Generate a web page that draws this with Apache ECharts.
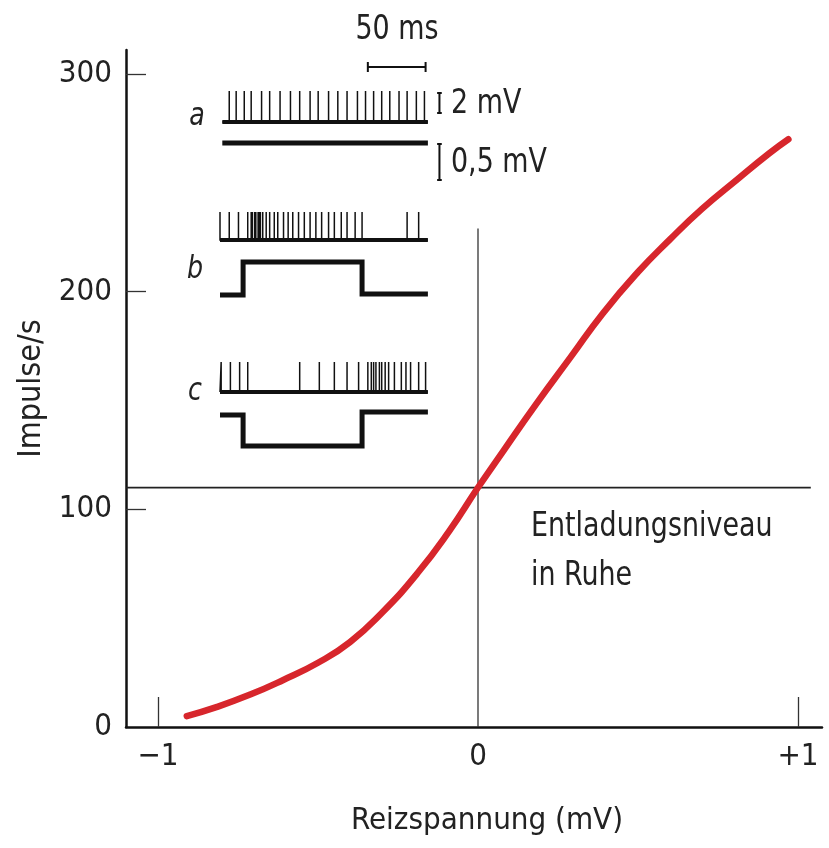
<!DOCTYPE html>
<html>
<head>
<meta charset="utf-8">
<script src="https://cdn.jsdelivr.net/npm/echarts@6/dist/echarts.min.js"></script>
<style>
  html, body { margin: 0; padding: 0; background: #fff; }
  #chart { width: 829px; height: 848px; }
</style>
</head>
<body>
<div id="chart"></div>
<script>
// Kennlinie: Reizspannung (mV) -> Entladungsrate (Impulse/s)
const stimulusMv = [-0.91, -0.82, -0.71, -0.61, -0.50, -0.40, -0.30, -0.19, -0.09, 0, 0.08, 0.18, 0.29, 0.39, 0.50, 0.60, 0.70, 0.81, 0.91, 0.97];
const impulseRate = [5, 9, 15, 21.5, 29.5, 39, 52.5, 70.5, 90, 110, 127, 148, 170, 190, 209, 224, 238, 251.5, 263.5, 270];
const restRate = 110;          // Entladungsniveau in Ruhe
const yTicks = [0, 100, 200, 300];
const xTicks = [-1, 0, 1];
const xTickLabels = ['−1', '0', '+1'];

// Ableitungen a, b, c (Zeit in ms)
const spikesA = [8, 14, 21, 27, 36, 43, 52, 61, 69, 78, 85, 94, 102, 110, 119, 126, 133, 140, 147, 155, 162, 170, 177];
const spikesB = [0, 8, 16, 24, 27, 28, 30, 31, 33, 34, 35, 37, 40, 43, 47, 50, 55, 59, 63, 68, 73, 78, 83, 88, 94, 99, 105, 110, 117, 123, 162, 172];
const spikesC = [1, 9, 17, 24, 69, 86, 99, 110, 120, 128, 131, 133, 135, 138, 140, 143, 146, 151, 157, 161, 165, 172, 178];
const stepOnMs = 20;
const stepOffMs = 123;
const traceEndMs = 180;

const FONT = '"Liberation Sans Narrow", "DejaVu Sans Condensed", "Liberation Sans", sans-serif';
const INK = '#111';

window.onload = function () {
  const chart = echarts.init(document.getElementById('chart'));
  chart.setOption(buildOption());
};

// Spur mit Aktionspotentialen
function spikeTrace(times, base, height, start, end) {
  const pts = [[start, base]];
  times.forEach(function (t) {
    pts.push([t, base], [t, base + height], [t, base]);
  });
  pts.push([end, base]);
  return pts;
}

// Rezeptorpotential mit Stufe
function stepTrace(rest, step, after, start) {
  return [
    [start, rest], [stepOnMs, rest], [stepOnMs, rest + step],
    [stepOffMs, rest + step], [stepOffMs, after], [traceEndMs, after]
  ];
}

function scaleBarV(x, y0, y1) {
  return [[x - 2, y0], [x + 2, y0], [x, y0], [x, y1], [x - 2, y1], [x + 2, y1]];
}

function insetLine(data, width) {
  return {
    type: 'line', xAxisIndex: 1, yAxisIndex: 1, data: data,
    symbol: 'none', silent: true,
    lineStyle: { color: INK, width: width, join: 'miter' }
  };
}

function text(str, x, y, align, font) {
  return {
    type: 'text', x: x, y: y, scaleX: 0.88,
    style: {
      text: str, font: font || '34px ' + FONT, fill: '#222',
      textAlign: align || 'left', textVerticalAlign: 'middle'
    }
  };
}

function buildOption() {
  const curve = stimulusMv.map(function (x, i) { return [x, impulseRate[i]]; });

  const series = [
    { // Nulllinie
      type: 'line', data: [[0, 0], [0, 229]], symbol: 'none', silent: true,
      lineStyle: { color: '#333', width: 1.3 }
    },
    { // Ruheniveau
      type: 'line', data: [[-1.1, restRate], [1.04, restRate]], symbol: 'none', silent: true,
      lineStyle: { color: '#222', width: 1.8 }
    },
    {
      type: 'line', data: curve, smooth: true, symbol: 'none', silent: true,
      lineStyle: { color: '#d7262c', width: 6.5, cap: 'round' }
    },
    // a
    insetLine(spikeTrace(spikesA, 338, 31, 2, traceEndMs), 1.5),
    insetLine([[2, 338], [traceEndMs, 338]], 4),
    insetLine([[2, 317], [traceEndMs, 317]], 5),
    // b
    insetLine(spikeTrace(spikesB, 220, 28, 0, traceEndMs), 1.5),
    insetLine([[0, 220], [traceEndMs, 220]], 4),
    insetLine(stepTrace(165, 33, 166, 0), 5),
    // c
    insetLine(spikeTrace(spikesC, 68, 30, 0, traceEndMs), 1.5),
    insetLine([[0, 68], [traceEndMs, 68]], 4),
    insetLine(stepTrace(45, -31, 48, 0), 5),
    // Massstaebe
    insetLine([[128, 388], [128, 398], [128, 393], [178, 393], [178, 398], [178, 388]], 2),
    insetLine(scaleBarV(190, 347, 367), 2),
    insetLine(scaleBarV(190, 280, 316), 2)
  ];

  return {
    animation: false,
    backgroundColor: '#fff',
    grid: [
      { left: 126, top: 50, right: 7, bottom: 121, outerBoundsMode: 'none' },
      { left: 220, top: 50, width: 231, height: 410, outerBoundsMode: 'none' }
    ],
    xAxis: [{
      type: 'value', min: -1.1, max: 1.075,
      axisLine: { onZero: false, lineStyle: { color: INK, width: 2.5 } },
      axisTick: { customValues: [-1, 1], inside: true, length: 30, lineStyle: { color: '#333', width: 1.3 } },
      axisLabel: {
        customValues: xTicks, margin: 14, color: '#222', fontFamily: FONT, fontSize: 31,
        formatter: function (v) { return xTickLabels[xTicks.indexOf(v)]; }
      },
      splitLine: { show: false },
      name: 'Reizspannung (mV)', nameLocation: 'middle', nameGap: 78,
      nameTextStyle: { color: '#222', fontFamily: FONT, fontSize: 31, padding: [0, 0, 0, 26] }
    }, {
      type: 'value', gridIndex: 1, min: 0, max: 200, show: false
    }],
    yAxis: [{
      type: 'value', min: 0, max: 311,
      axisLine: { show: true, onZero: false, lineStyle: { color: INK, width: 2.5 } },
      axisTick: { show: true, customValues: [100, 200, 300], inside: true, length: 20, lineStyle: { color: '#333', width: 1.3 } },
      axisLabel: {
        customValues: yTicks, margin: 14, color: '#222', fontFamily: FONT, fontSize: 31
      },
      splitLine: { show: false },
      name: 'Impulse/s', nameLocation: 'middle', nameGap: 76,
      nameTextStyle: { color: '#222', fontFamily: FONT, fontSize: 32 }
    }, {
      type: 'value', gridIndex: 1, min: 0, max: 410, show: false
    }],
    series: series,
    graphic: [
      text('50 ms', 397, 30, 'center'),
      text('2 mV', 451, 104),
      text('0,5 mV', 451, 163),
      text('Entladungsniveau', 531, 527),
      text('in Ruhe', 531, 576),
      text('a', 197, 117, 'center', 'italic 32px ' + FONT),
      text('b', 195, 270, 'center', 'italic 32px ' + FONT),
      text('c', 195, 392, 'center', 'italic 32px ' + FONT)
    ]
  };
}
</script>
</body>
</html>
